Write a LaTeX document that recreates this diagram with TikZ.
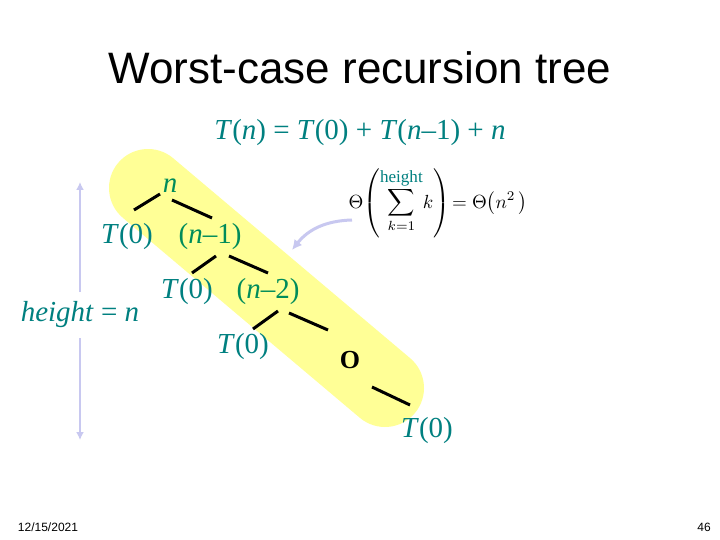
\documentclass[tikz,border=0pt]{standalone}
\usepackage{fontspec}
\setmainfont{Liberation Serif}
\newfontfamily\arialf{Liberation Sans}
\usetikzlibrary{arrows.meta}
\definecolor{tealc}{RGB}{0,128,128}
\definecolor{greenc}{RGB}{0,140,90}
\definecolor{bandc}{RGB}{255,255,150}
\definecolor{lav}{RGB}{200,200,240}
\tikzset{
  lbl/.style={text=tealc,font=\fontsize{29}{31}\selectfont,inner sep=0pt},
  glbl/.style={text=greenc,font=\fontsize{29}{31}\selectfont,inner sep=0pt},
  edge/.style={line width=3pt},
}
\begin{document}
\begin{tikzpicture}[x=1pt,y=-1pt]
\useasboundingbox[fill=white] (0,0) rectangle (720,540);
\draw[bandc,line width=78pt,line cap=round] (148,188) -- (385,388);
\node[inner sep=0pt,font=\arialf\fontsize{44}{48}\selectfont] (title) at (360,68) {Worst-case recursion tree};
\node[lbl] (rec) at (360,133) {\textit{T}(\textit{n}) = \textit{T}(0) + \textit{T}(\textit{n}–1) + \textit{n}};
\node[glbl] (n) at (170,186) {\textit{n}};
\node[lbl] (a0) at (127,237) {\textit{T}(0)};
\node[glbl] (a1) at (210,237) {(\textit{n}–1)};
\node[lbl] (b0) at (187,292) {\textit{T}(0)};
\node[glbl] (b1) at (268,292) {(\textit{n}–2)};
\node[lbl] (c0) at (243,347) {\textit{T}(0)};
\node[inner sep=0pt,font=\bfseries\fontsize{26}{28}\selectfont] (dots) at (350,360) {O};
\node[lbl] (d0) at (427,431) {\textit{T}(0)};
\coordinate (e1a) at (160,194); \coordinate (e1b) at (134,210);
\coordinate (e2a) at (172,200); \coordinate (e2b) at (212,218);
\coordinate (e3a) at (216,256); \coordinate (e3b) at (192,273);
\coordinate (e4a) at (229,256); \coordinate (e4b) at (268,273);
\coordinate (e5a) at (278,311); \coordinate (e5b) at (253,329);
\coordinate (e6a) at (289,313); \coordinate (e6b) at (328,330);
\coordinate (e7a) at (372,387); \coordinate (e7b) at (410,405);
\foreach \i in {1,...,7} \draw[edge] (e\i a) -- (e\i b);
\node[lbl] (h) at (80,315) {\textit{height} = \textit{n}};
\coordinate (ht) at (80,182); \coordinate (hb) at (80,440);
\draw[lav,line width=2.5pt,-{Latex[length=8pt,width=8pt]}] (80,292) -- (ht);
\draw[lav,line width=2.5pt,-{Latex[length=8pt,width=8pt]}] (80,338) -- (hb);
\node[inner sep=0pt,scale=1.9] (f) at (438,203)
  {$\displaystyle\Theta\!\left(\sum_{k=1}^{\textcolor{tealc}{\mbox{\fontsize{9}{9}\selectfont height}}}\! k\right)\!=\Theta\!\left(n^{2}\,\right)$};
\coordinate (fs) at (352,220); \coordinate (ft) at (292,250);
\draw[lav,line width=3pt,-{Latex[length=10pt,width=10pt]}] (fs) to[bend right=25] (ft);
\node[font=\arialf\fontsize{12}{14}\selectfont,inner sep=0pt] (date) at (48,527) {12/15/2021};
\node[font=\arialf\fontsize{12}{14}\selectfont,inner sep=0pt] (pg) at (704,527) {46};
\end{tikzpicture}
\end{document}
